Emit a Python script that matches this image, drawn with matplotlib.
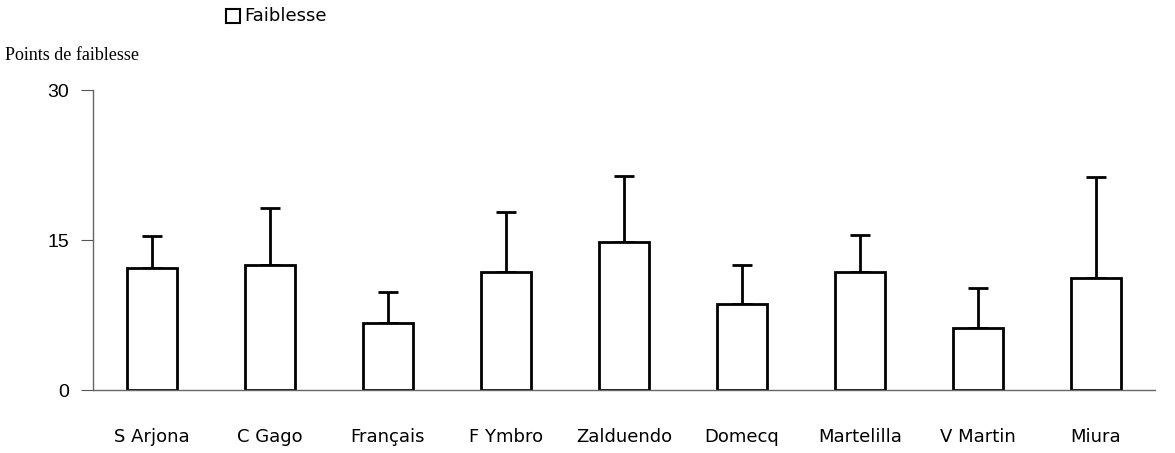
import numpy as np
import matplotlib.pyplot as plt
from matplotlib.patches import Rectangle

# Données
elevages = ['S Arjona', 'C Gago', 'Français', 'F Ymbro', 'Zalduendo',
            'Domecq', 'Martelilla', 'V Martin', 'Miura']
faiblesse = [12.2, 12.5, 6.7, 11.8, 14.8, 8.6, 11.8, 6.2, 11.2]
erreur = [3.2, 5.7, 3.1, 6.0, 6.6, 3.9, 3.7, 4.0, 10.1]
yticks = [0, 15, 30]

fig = plt.figure(figsize=(11.75, 4.53), dpi=100)
ax = fig.add_axes([0.079, 0.139, 0.904, 0.662])

x = np.arange(len(elevages))
ax.bar(x, faiblesse, width=0.42, color='white', edgecolor='black', linewidth=2, zorder=2)
ax.errorbar(x, faiblesse, yerr=[np.zeros(len(erreur)), erreur], fmt='none',
            ecolor='black', elinewidth=2, capsize=7, capthick=2, zorder=1)

ax.set_xlim(-0.5, len(elevages) - 0.5)
ax.set_ylim(0, 30)
ax.set_yticks(yticks)
ax.set_yticklabels([str(v) for v in yticks], fontsize=14, family='Liberation Sans')
ax.set_xticks(x)
ax.set_xticklabels(elevages, fontsize=13, family='DejaVu Sans')
ax.tick_params(axis='x', length=0, pad=27)
ax.tick_params(axis='y', length=9, direction='out', pad=8, color='#555555')

for s in ['top', 'right']:
    ax.spines[s].set_visible(False)
for s in ['left', 'bottom']:
    ax.spines[s].set_color('#666666')
    ax.spines[s].set_linewidth(1)

# Légende
fig.patches.append(Rectangle((226 / 1175, 1 - 23 / 453), 14 / 1175, 14 / 453,
                             transform=fig.transFigure, facecolor='white',
                             edgecolor='black', linewidth=1.5))
fig.text(244 / 1175, 1 - 16 / 453, 'Faiblesse', fontsize=13, va='center', family='DejaVu Sans')
fig.text(5 / 1175, 1 - 55 / 453, 'Points de faiblesse', fontsize=13,
         va='center', family='Liberation Serif')

fig.savefig('out.png', dpi=100)
